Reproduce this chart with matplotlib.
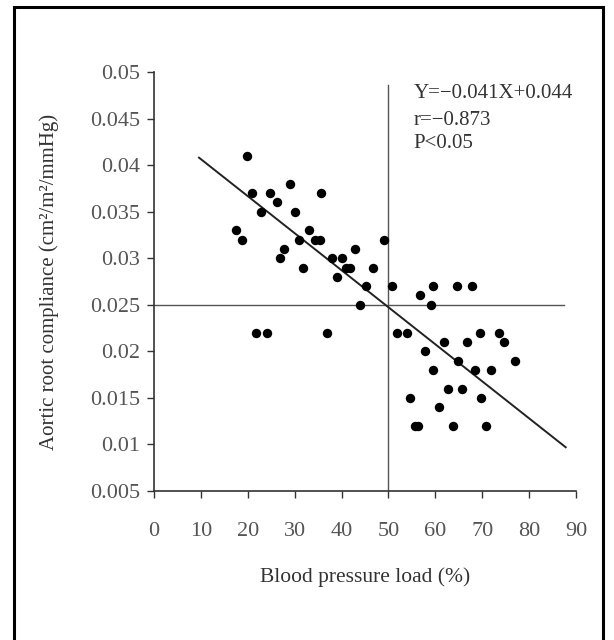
import matplotlib
matplotlib.use("Agg")
import matplotlib.pyplot as plt
from matplotlib.patches import Rectangle

# Data
bp_load = [17.5, 18.8, 19.8, 21.0, 21.8, 24.0, 22.9, 24.8, 26.2, 26.8,
           27.8, 28.9, 30.1, 30.9, 31.8, 33.0, 34.3, 35.3, 35.7, 36.9,
           38.0, 39.0, 40.1, 40.9, 41.8, 42.8, 44.0, 45.3, 46.8, 49.1,
           50.8, 51.8, 53.9, 54.6, 55.75, 56.4, 56.8, 57.9, 59.0, 59.5,
           59.6, 60.75, 61.75, 62.8, 63.75, 64.7, 64.75, 65.75, 66.75, 67.9,
           68.5, 69.6, 69.75, 70.8, 71.9, 73.5, 74.6, 76.9]
compliance = [0.033, 0.032, 0.041, 0.037, 0.022, 0.022, 0.035, 0.037, 0.036, 0.030,
              0.031, 0.038, 0.035, 0.032, 0.029, 0.033, 0.032, 0.032, 0.037, 0.022,
              0.030, 0.028, 0.030, 0.029, 0.029, 0.031, 0.025, 0.027, 0.029, 0.032,
              0.027, 0.022, 0.022, 0.015, 0.012, 0.012, 0.026, 0.020, 0.025, 0.027,
              0.018, 0.014, 0.021, 0.016, 0.012, 0.027, 0.019, 0.016, 0.021, 0.027,
              0.018, 0.022, 0.015, 0.012, 0.018, 0.022, 0.021, 0.019]

fit_x = [9.6, 87.8]
fit_y = [0.0408, 0.0097]

x_ticks = [0, 10, 20, 30, 40, 50, 60, 70, 80, 90]
y_ticks = [0.005, 0.01, 0.015, 0.02, 0.025, 0.03, 0.035, 0.04, 0.045, 0.05]
y_tick_labels = ["0.005", "0.01", "0.015", "0.02", "0.025", "0.03",
                 "0.035", "0.04", "0.045", "0.05"]
annot_lines = ["Y=\u22120.041X+0.044", "r=\u22120.873", "P<0.05"]

plt.rcParams['font.family'] = ['Liberation Serif', 'DejaVu Serif']

fig = plt.figure(figsize=(6.14, 6.4), dpi=100)
ax = fig.add_axes([154/614, 1-491/640, (576-154)/614, (491-72)/640])

# reference lines
ax.plot([50, 50], [0.005, 0.0486], color='#555555', lw=1.0, zorder=1)
ax.plot([0, 87.5], [0.025, 0.025], color='#555555', lw=1.0, zorder=1)

ax.scatter(bp_load, compliance, s=46, color='black', zorder=3, linewidths=0)
ax.plot(fit_x, fit_y, color='#222222', lw=1.4, zorder=2)

ax.set_xlim(0, 90)
ax.set_ylim(0.005, 0.05)
ax.set_xticks(x_ticks)
ax.set_xticklabels([str(t) for t in x_ticks])
ax.set_yticks(y_ticks)
ax.set_yticklabels(y_tick_labels)
for s in ['top', 'right']:
    ax.spines[s].set_visible(False)
for s in ['left', 'bottom']:
    ax.spines[s].set_color('#333333')
    ax.spines[s].set_linewidth(1.2)
ax.tick_params(axis='both', direction='out', length=5, width=1, color='#333333',
               labelsize=16, labelcolor='#555555')
ax.tick_params(axis='x', pad=17)
ax.tick_params(axis='y', pad=5)

ax.set_xlabel("Blood pressure load (%)", fontsize=15.5, color='#333333', labelpad=19)
ax.set_ylabel("Aortic root compliance (cm\u00b2/m\u00b2/mmHg)", fontsize=15,
              color='#333333')
ax.yaxis.set_label_coords(-0.226, 0.5)

ann_y = [0.04764, 0.04484, 0.04227]
for txt, yy in zip(annot_lines, ann_y):
    ax.text(55.4, yy, txt, fontsize=15, color='#333333', va='center', ha='left')

fig.patches.append(Rectangle((14/614, -0.02), (603-14)/614, 1-7/640+0.02,
                             transform=fig.transFigure, fill=False,
                             edgecolor='black', lw=2.2))

fig.savefig("out.png", dpi=100)
